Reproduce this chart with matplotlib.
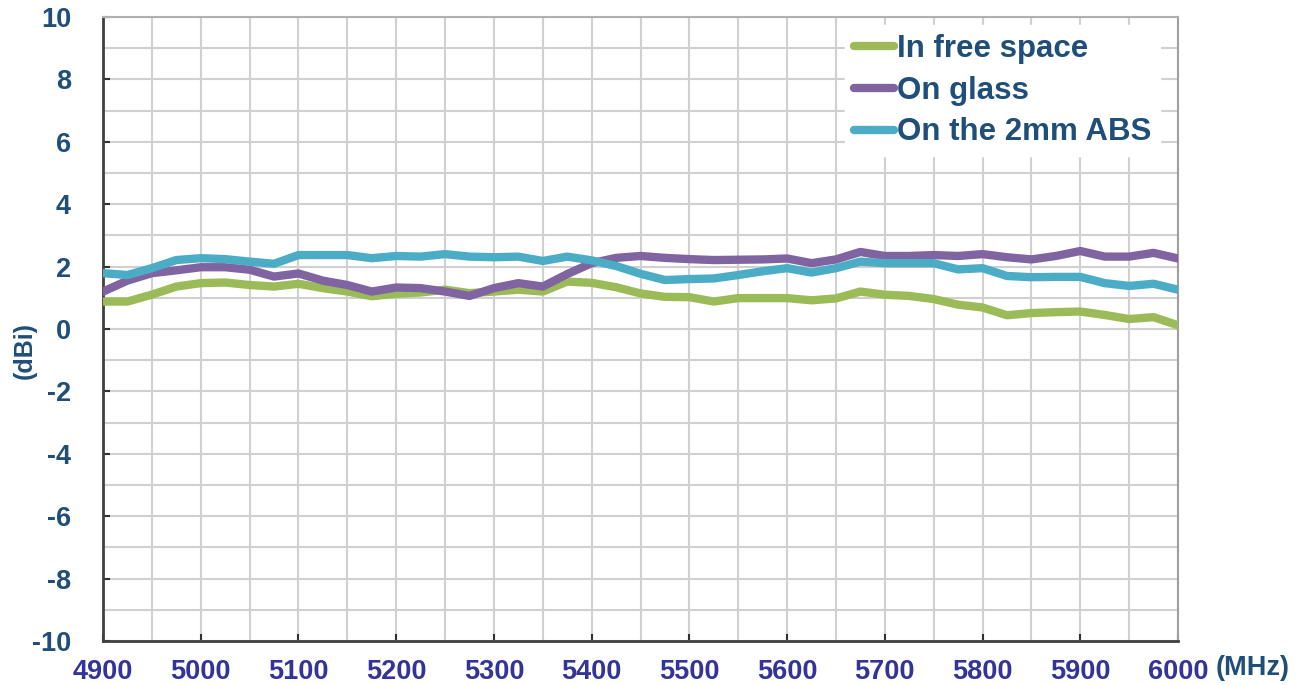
import matplotlib
matplotlib.use("Agg")
import matplotlib.pyplot as plt
import numpy as np

freq = list(range(4900, 6001, 25))

free_space = [0.88, 0.88, 1.10, 1.36, 1.47, 1.49, 1.41, 1.36, 1.45, 1.31,
              1.20, 1.05, 1.13, 1.17, 1.26, 1.15, 1.20, 1.26, 1.20, 1.52,
              1.48, 1.34, 1.14, 1.03, 1.02, 0.88, 0.99, 0.99, 0.99, 0.92,
              0.98, 1.20, 1.10, 1.06, 0.96, 0.78, 0.69, 0.44, 0.51, 0.54,
              0.56, 0.45, 0.32, 0.38, 0.12]
on_glass = [1.20, 1.55, 1.79, 1.88, 1.98, 1.98, 1.90, 1.68, 1.78, 1.55,
            1.41, 1.20, 1.33, 1.31, 1.20, 1.06, 1.31, 1.47, 1.36, 1.76,
            2.11, 2.28, 2.34, 2.28, 2.24, 2.21, 2.22, 2.23, 2.26, 2.11,
            2.23, 2.47, 2.34, 2.34, 2.37, 2.34, 2.40, 2.30, 2.23, 2.34,
            2.50, 2.32, 2.32, 2.44, 2.26]
on_abs = [1.79, 1.73, 1.95, 2.21, 2.27, 2.24, 2.16, 2.09, 2.37, 2.37,
          2.37, 2.27, 2.34, 2.32, 2.40, 2.32, 2.30, 2.32, 2.18, 2.32,
          2.20, 2.02, 1.77, 1.57, 1.60, 1.62, 1.73, 1.85, 1.95, 1.81,
          1.95, 2.16, 2.11, 2.11, 2.11, 1.91, 1.95, 1.70, 1.66, 1.67,
          1.67, 1.47, 1.38, 1.45, 1.26]

series_names = ["In free space", "On glass", "On the 2mm ABS"]
x_ticks = list(range(4900, 6001, 100))
y_ticks = list(range(-10, 11, 2))

plt.rcParams['font.family'] = ['Liberation Sans', 'DejaVu Sans']
plt.rcParams['font.weight'] = 'bold'
plt.rcParams['axes.unicode_minus'] = False

fig = plt.figure(figsize=(13.08, 6.85), dpi=100)
ax = fig.add_axes([103/1308, 1 - 641/685, (1178-103)/1308, (641-17)/685])

colors = ["#9BBB59", "#8064A2", "#4BACC6"]
for vals, name, c in zip([free_space, on_glass, on_abs], series_names, colors):
    ax.plot(freq, vals, color=c, lw=6, label=name, solid_capstyle='round',
            solid_joinstyle='round', zorder=3)

ax.set_xlim(4900, 6000)
ax.set_ylim(-10, 10)
ax.set_xticks(x_ticks)
ax.set_yticks(y_ticks)
ax.set_xticks(np.arange(4900, 6001, 50), minor=True)
ax.set_yticks(np.arange(-10, 11, 1), minor=True)
ax.grid(True, which='both', color='#D0D0D0', lw=1.5, zorder=0)
ax.tick_params(axis='both', which='minor', length=0)
ax.tick_params(axis='both', which='major', direction='in', length=5, width=1.5,
               color='#303030')
ax.tick_params(axis='x', colors='#303030', labelcolor='#33339A', labelsize=19.5, pad=13)
ax.tick_params(axis='y', colors='#303030', labelcolor='#1F4E79', labelsize=19.5, pad=23)
for lab in ax.get_xticklabels() + ax.get_yticklabels():
    lab.set_fontweight('bold')

ax.spines['left'].set_color('#404040')
ax.spines['bottom'].set_color('#404040')
ax.spines['left'].set_linewidth(2)
ax.spines['bottom'].set_linewidth(2)
ax.spines['top'].set_color('#B0B0B0')
ax.spines['right'].set_color('#A0A0A0')
ax.spines['top'].set_linewidth(1.5)
ax.spines['right'].set_linewidth(1.5)

fig.text(25/1308, 1 - 350/685, "(dBi)", rotation=90, ha='center', va='center',
         fontsize=18, fontweight='bold', color='#1F4E79')
fig.text(1253/1308, 1 - 668/685, "(MHz)", ha='center', va='center',
         fontsize=19.5, fontweight='bold', color='#1F4E79')

leg = ax.legend(loc='upper right', bbox_to_anchor=(1160/1308, 1 - 25/685),
                bbox_transform=fig.transFigure, frameon=True, fancybox=False,
                framealpha=1, edgecolor='white', fontsize=22.5, handlelength=1.3,
                handletextpad=0.08, labelspacing=0.38, borderpad=0.28,
                borderaxespad=0)
for t in leg.get_texts():
    t.set_color('#1F4E79')
    t.set_fontweight('bold')

fig.savefig("out.png", dpi=100)
